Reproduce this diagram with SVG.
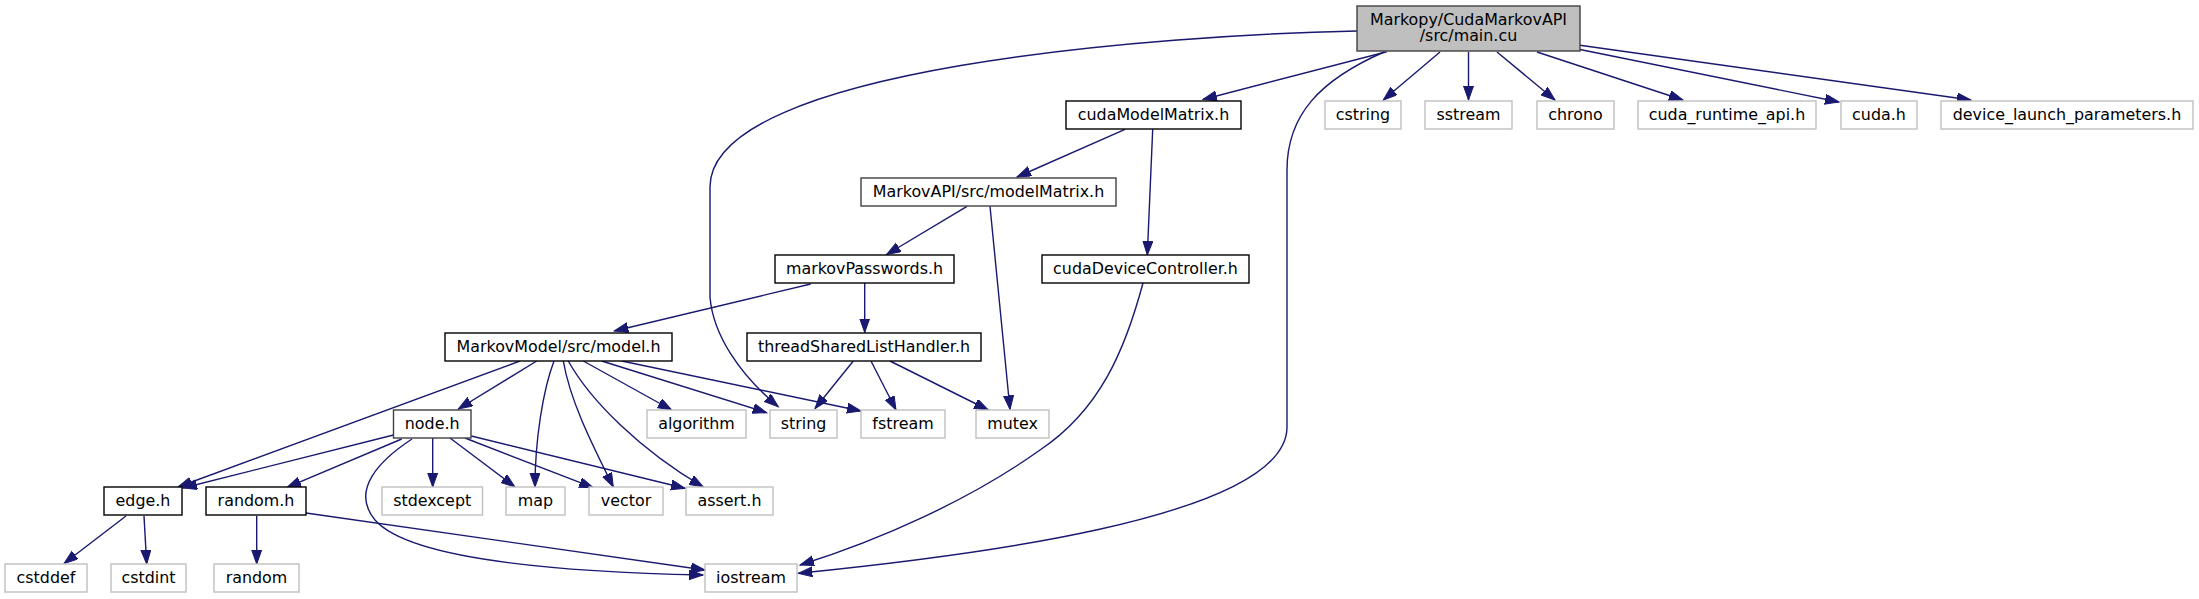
<svg xmlns="http://www.w3.org/2000/svg" width="2199" height="599" viewBox="0 0 2199 599">
<style>
.n rect{fill:#fff;stroke:#000;stroke-width:1.4}
.n.ext rect{stroke:#bfbfbf}
.n.dk rect{stroke:#404040}
.n.root rect{fill:#bfbfbf;stroke:#404040}
.n text{font-family:"DejaVu Sans","Liberation Sans",sans-serif;font-size:15.9px;fill:#000;text-anchor:middle}
.e path{fill:none;stroke:#191970;stroke-width:1.4}
</style>
<defs>
<marker id="a" markerUnits="userSpaceOnUse" markerWidth="16" markerHeight="12" refX="14" refY="5" orient="auto">
<path d="M0,0 L14,5 L0,10 z" fill="#191970" stroke="#191970" stroke-width="1"/>
</marker>
</defs>
<rect width="2199" height="599" fill="#fff"/>
<g id="edges" class="e" marker-end="url(#a)">
<path d="M1386.7,51.7 L1203,99.5" marker-end="url(#a)"/>
<path d="M1357,31 C1163,35 710,67 710,187 L710,297 C713,335 740,375 778.3,406.7" marker-end="url(#a)"/>
<path d="M1384,52 C1320,80 1287,115 1287,170 L1287,427 C1287,520 950,558 798.3,573.3" marker-end="url(#a)"/>
<path d="M1440,52 L1383.3,100" marker-end="url(#a)"/>
<path d="M1468.5,52 L1468.5,100" marker-end="url(#a)"/>
<path d="M1497,52 L1555,100" marker-end="url(#a)"/>
<path d="M1537,52 L1683,100" marker-end="url(#a)"/>
<path d="M1580,49.5 L1839,102" marker-end="url(#a)"/>
<path d="M1580,45.3 L1971,100" marker-end="url(#a)"/>
<path d="M1125,129.3 L1017,177" marker-end="url(#a)"/>
<path d="M1152.7,129.3 L1147.3,255" marker-end="url(#a)"/>
<path d="M967,206.3 L886.6,254.5" marker-end="url(#a)"/>
<path d="M990,206.3 L1010,409.5" marker-end="url(#a)"/>
<path d="M1143,283 C1125,350 1100,410 1040,450 C970,500 880,540 800,565" marker-end="url(#a)"/>
<path d="M810.7,284 L614.3,331" marker-end="url(#a)"/>
<path d="M864.7,283 L864.7,332.5" marker-end="url(#a)"/>
<path d="M853.3,361 L815,408.5" marker-end="url(#a)"/>
<path d="M871,361 L896,410" marker-end="url(#a)"/>
<path d="M890,361 L988.3,410" marker-end="url(#a)"/>
<path d="M520,361 L178,487" marker-end="url(#a)"/>
<path d="M536.7,361 L458.3,409" marker-end="url(#a)"/>
<path d="M554,361 C543,390 535,440 535,487" marker-end="url(#a)"/>
<path d="M563.3,361 C570,400 590,440 613.3,487" marker-end="url(#a)"/>
<path d="M568.3,361 C590,400 640,450 703.3,487" marker-end="url(#a)"/>
<path d="M583.3,361 L671.7,410" marker-end="url(#a)"/>
<path d="M601.7,361 L766.7,412.7" marker-end="url(#a)"/>
<path d="M621.7,361 L861,411" marker-end="url(#a)"/>
<path d="M393.5,435 L183,488" marker-end="url(#a)"/>
<path d="M401.7,439 L287,487.3" marker-end="url(#a)"/>
<path d="M412,439 C380,460 350,490 375,520 C410,560 560,572 703,575" marker-end="url(#a)"/>
<path d="M432.7,438 L432.7,487" marker-end="url(#a)"/>
<path d="M450,438 L515,487" marker-end="url(#a)"/>
<path d="M465,438 L593.3,487.7" marker-end="url(#a)"/>
<path d="M471.3,436 L685,488.3" marker-end="url(#a)"/>
<path d="M126,516 L64,563.5" marker-end="url(#a)"/>
<path d="M144,516 L146.7,564" marker-end="url(#a)"/>
<path d="M256.7,516 L256.7,564" marker-end="url(#a)"/>
<path d="M306,513 L705,570" marker-end="url(#a)"/>
</g>
<g id="node-main" class="n root"><rect x="1357" y="6" width="223" height="45"/><text x="1468.5" y="24.5">Markopy/CudaMarkovAPI</text><text x="1468.5" y="41">/src/main.cu</text></g>
<g id="node-cudaModelMatrix" class="n"><rect x="1066" y="101" width="175" height="28"/><text x="1153.5" y="120">cudaModelMatrix.h</text></g>
<g id="node-cstring" class="n ext"><rect x="1325" y="101" width="76" height="28"/><text x="1363" y="120">cstring</text></g>
<g id="node-sstream" class="n ext"><rect x="1425" y="101" width="87" height="28"/><text x="1468.5" y="120">sstream</text></g>
<g id="node-chrono" class="n ext"><rect x="1537" y="101" width="77" height="28"/><text x="1575.5" y="120">chrono</text></g>
<g id="node-cuda_runtime_api" class="n ext"><rect x="1638" y="101" width="178" height="28"/><text x="1727" y="120">cuda_runtime_api.h</text></g>
<g id="node-cuda" class="n ext"><rect x="1841" y="101" width="76" height="28"/><text x="1879" y="120">cuda.h</text></g>
<g id="node-device_launch_parameters" class="n ext"><rect x="1941" y="101" width="252" height="28"/><text x="2067" y="120">device_launch_parameters.h</text></g>
<g id="node-modelMatrix" class="n dk"><rect x="861" y="178" width="255" height="28"/><text x="988.5" y="197">MarkovAPI/src/modelMatrix.h</text></g>
<g id="node-cudaDeviceController" class="n"><rect x="1042" y="255" width="207" height="28"/><text x="1145.5" y="274">cudaDeviceController.h</text></g>
<g id="node-markovPasswords" class="n"><rect x="775" y="255" width="179" height="28"/><text x="864.5" y="274">markovPasswords.h</text></g>
<g id="node-model" class="n"><rect x="445" y="333" width="227" height="28"/><text x="558.5" y="352">MarkovModel/src/model.h</text></g>
<g id="node-threadSharedListHandler" class="n"><rect x="747" y="333" width="234" height="28"/><text x="864" y="352">threadSharedListHandler.h</text></g>
<g id="node-node" class="n dk"><rect x="393.5" y="410" width="77.5" height="28"/><text x="432.2" y="429">node.h</text></g>
<g id="node-algorithm" class="n ext"><rect x="647" y="410" width="99" height="28"/><text x="696.5" y="429">algorithm</text></g>
<g id="node-string" class="n ext"><rect x="770" y="410" width="67" height="28"/><text x="803.5" y="429">string</text></g>
<g id="node-fstream" class="n ext"><rect x="861" y="410" width="84" height="28"/><text x="903" y="429">fstream</text></g>
<g id="node-mutex" class="n ext"><rect x="976" y="410" width="73" height="28"/><text x="1012.5" y="429">mutex</text></g>
<g id="node-edge" class="n"><rect x="104" y="487" width="78" height="28"/><text x="143" y="506">edge.h</text></g>
<g id="node-random_h" class="n"><rect x="206" y="487" width="100" height="28"/><text x="256" y="506">random.h</text></g>
<g id="node-stdexcept" class="n ext"><rect x="382" y="487" width="100.5" height="28"/><text x="432.2" y="506">stdexcept</text></g>
<g id="node-map" class="n ext"><rect x="506" y="487" width="59" height="28"/><text x="535.5" y="506">map</text></g>
<g id="node-vector" class="n ext"><rect x="589" y="487" width="74" height="28"/><text x="626" y="506">vector</text></g>
<g id="node-assert" class="n ext"><rect x="686" y="487" width="87" height="28"/><text x="729.5" y="506">assert.h</text></g>
<g id="node-cstddef" class="n ext"><rect x="5" y="564" width="82" height="28"/><text x="46" y="583">cstddef</text></g>
<g id="node-cstdint" class="n ext"><rect x="111" y="564" width="75" height="28"/><text x="148.5" y="583">cstdint</text></g>
<g id="node-random" class="n ext"><rect x="214" y="564" width="85" height="28"/><text x="256.5" y="583">random</text></g>
<g id="node-iostream" class="n ext"><rect x="705" y="564" width="92" height="28"/><text x="751" y="583">iostream</text></g>
</svg>
